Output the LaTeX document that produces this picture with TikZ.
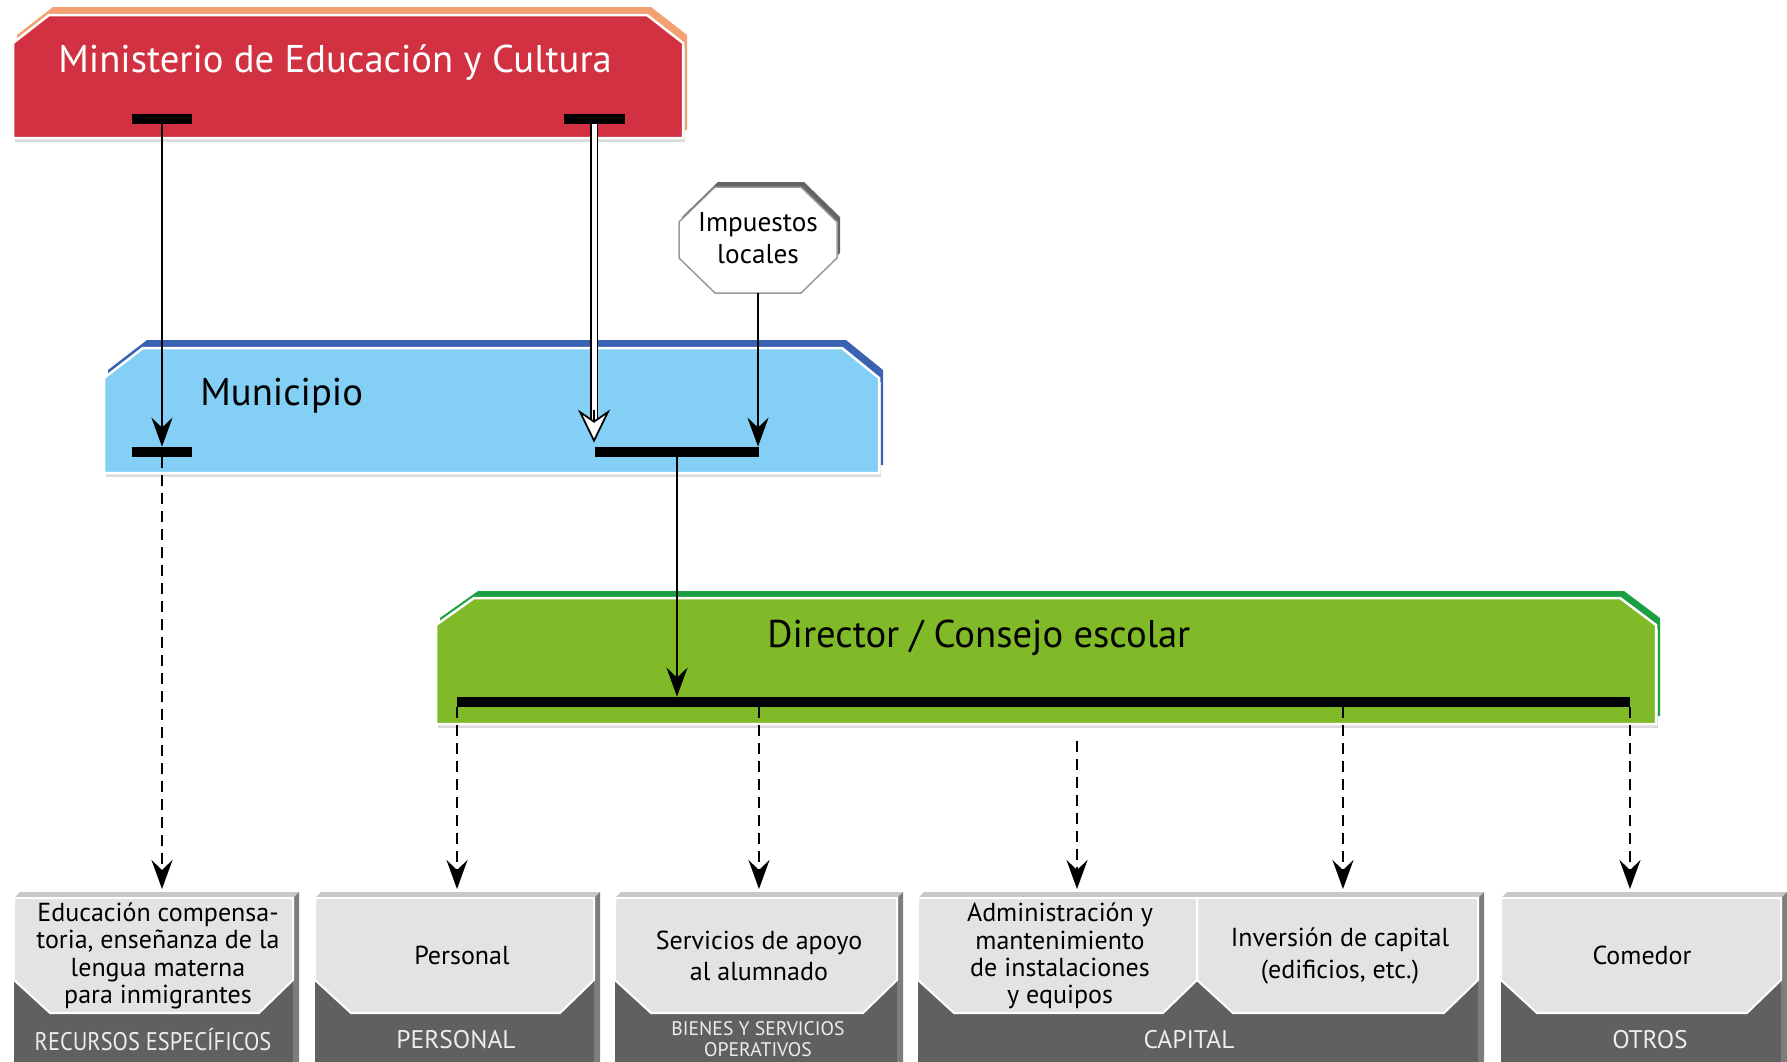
\documentclass[tikz,border=0pt]{standalone}
\usepackage{fontspec}
\setmainfont{PT Sans}
\usetikzlibrary{arrows.meta,positioning,calc}
\definecolor{minred}{RGB}{209,49,64}
\definecolor{minorange}{RGB}{243,160,115}
\definecolor{munblue}{RGB}{132,207,245}
\definecolor{mundark}{RGB}{58,98,178}
\definecolor{dirgreen}{RGB}{128,186,40}
\definecolor{dirdark}{RGB}{28,158,66}
\definecolor{boxlight}{RGB}{227,227,227}
\definecolor{boxdark}{RGB}{96,96,96}
\definecolor{boxtop}{RGB}{200,200,200}
\definecolor{boxside}{RGB}{125,125,125}
\definecolor{octshade}{RGB}{100,100,100}

\begin{document}
\begin{tikzpicture}[x=0.2mm, y=-0.2mm,
  front/.style={draw=white, line width=0.5mm},
  shade/.style={fill=black!14},
  title/.style={anchor=base west, inner sep=0pt, font=\fontsize{22}{26}\selectfont},
  bar/.style={fill=black, inner sep=0pt, minimum height=2mm},
  item/.style={align=center, inner sep=0pt, font=\fontsize{14.8}{15.5}\selectfont},
  wide/.style={font=\fontsize{14.8}{18}\selectfont},
  cat/.style={align=center, inner sep=0pt, text=white!93!black, font=\fontsize{14.5}{15}\selectfont},
  lightpart/.style={fill=boxlight, draw=white, line width=0.4mm},
  arr/.style={-{Stealth[length=5.8mm, width=4.2mm, inset=2mm]}, line width=0.5mm},
  darr/.style={arr, dash pattern=on 2.2mm off 1.4mm},
  dbl/.style={line width=0.3mm, double=white, double distance=1mm},
  hollow/.style={-{Stealth[open, fill=white, length=6.6mm, width=6.4mm, inset=2.2mm]}, line width=0.35mm}]
\useasboundingbox (0,0) rectangle (1787,1062);

\fill[minorange] (17,130) -- (17,35) -- (53,7) -- (651,7) -- (687,35) -- (687,130) -- cycle;
\fill[shade] (15,142) -- (15,47) -- (685,47) -- (685,142) -- cycle;
\filldraw[fill=minred, front] (13,138) -- (13,43) -- (49,15) -- (647,15) -- (683,43) -- (683,138) -- cycle;

\fill[mundark] (108,465) -- (108,370) -- (147,340) -- (846,340) -- (883,370) -- (883,465) -- cycle;
\fill[shade] (106,477) -- (106,382) -- (881,382) -- (881,477) -- cycle;
\filldraw[fill=munblue, front] (104,473) -- (104,378) -- (143,348) -- (842,348) -- (879,378) -- (879,473) -- cycle;

\fill[dirdark] (440,716) -- (440,618) -- (478,591) -- (1624,591) -- (1660,618) -- (1660,716) -- cycle;
\fill[shade] (438,728) -- (438,629) -- (1658,629) -- (1658,728) -- cycle;
\filldraw[fill=dirgreen, front] (436,724) -- (436,625) -- (474,598) -- (1620,598) -- (1656,625) -- (1656,724) -- cycle;

\fill[octshade] (718,182) -- (804,182) -- (840,217) -- (840,253) -- (804,288) -- (718,288) -- (682,253) -- (682,217) -- cycle;
\filldraw[fill=white, draw=black!40, line width=0.3mm] (715,187) -- (801,187) -- (837,222) -- (837,258) -- (801,293) -- (715,293) -- (679,258) -- (679,222) -- cycle;

\foreach \a/\b in {14/293, 315/594, 615/897, 918/1478, 1501/1781} {
  \fill[boxtop] (\a,898) -- (\a+6,892) -- (\b+6,892) -- (\b,898) -- cycle;
  \fill[boxside] (\b,898) -- (\b+6,892) -- (\b+6,1062) -- (\b,1062) -- cycle;
  \fill[boxdark] (\a,898) rectangle (\b,1062);
}
\foreach \a/\b in {14/293, 315/594, 615/897, 918/1197, 1197/1478, 1501/1781}
  \draw[lightpart] (\a,898) -- (\b,898) -- (\b,980) -- (\b-34,1013) -- (\a+36,1013) -- (\a,980) -- cycle;

\node[title, text=white] (min) at (58,72) {Ministerio de Educación y Cultura};
\node[title] (mun) at (200,405) {Municipio};
\node[title] (dir) at (767,647) {Director / Consejo escolar};
\node[item, font=\fontsize{15.5}{18.5}\selectfont, minimum width=31.6mm, minimum height=21.2mm] (imp) at (758,240) {\raisebox{0.8mm}{Impuestos}\\\raisebox{0.8mm}{locales}};

\node[bar, minimum width=12mm] (mb1) at (162,119) {};
\node[bar, minimum width=12.2mm] (mb2) at (594,119) {};
\node[bar, minimum width=12mm] (pb1) at (162,452) {};
\node[bar, minimum width=32.8mm] (pb2) at (677,452) {};
\node[bar, minimum width=234.6mm] (db) at (1043.5,702) {};

\node[item] (edu) at (158,956) {Educación compensa-\\toria, enseñanza de la\\lengua materna\\para inmigrantes};
\node[item] (pers) at (462,955) {Personal};
\node[item, wide] (serv) at (759,956) {Servicios de apoyo\\al alumnado};
\node[item] (adm) at (1060,956) {Administración y\\mantenimiento\\de instalaciones\\y equipos};
\node[item, wide] (inv) at (1340,956) {Inversión de capital\\(edificios, etc.)};
\node[item] (com) at (1642,955) {Comedor};

\node[cat] (lrec) at (153,1040) {\scalebox{0.88}[1]{RECURSOS ESPECÍFICOS}};
\node[cat] (lpers) at (456,1040) {PERSONAL};
\node[cat, font=\fontsize{11.2}{11.5}\selectfont] (lbien) at (758,1039) {BIENES Y SERVICIOS\\OPERATIVOS};
\node[cat] (lcap) at (1189,1040) {CAPITAL};
\node[cat] (lotr) at (1650,1040) {OTROS};

\coordinate (t1) at (162,889);
\coordinate (t2) at (457,889);
\coordinate (t3) at (759,889);
\coordinate (t4) at (1077,889);
\coordinate (t5) at (1343,889);
\coordinate (t6) at (1630,889);
\coordinate (s4) at (1077,741);
\coordinate (dtip) at ($(mb2.south |- pb2.north)+(0,-4)$);

\draw[arr] (mb1.south) -- (pb1.north);
\draw[dbl] (mb2.south) -- ($(dtip)+(0,-22)$);
\draw[hollow] ($(dtip)+(0,-33)$) -- (dtip);
\draw[arr] (imp.south) -- (imp.south |- pb2.north);
\draw[arr] (pb2.south) -- (pb2.south |- db.north);
\draw[darr] (pb1.south) -- (t1);
\draw[darr] (db.south -| t2) -- (t2);
\draw[darr] (db.south -| t3) -- (t3);
\draw[darr] (s4) -- (t4);
\draw[darr] (db.south -| t5) -- (t5);
\draw[darr] (db.south -| t6) -- (t6);
\end{tikzpicture}
\end{document}
